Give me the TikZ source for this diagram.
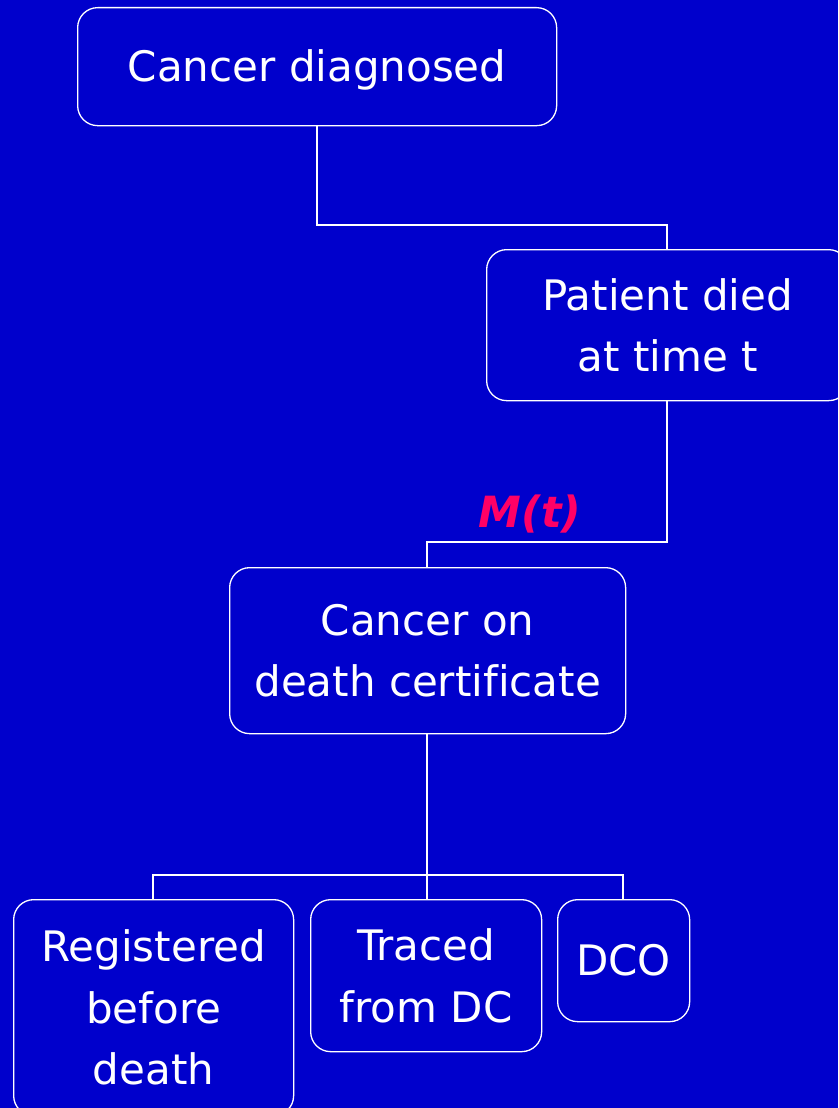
\documentclass[tikz,border=0pt]{standalone}
\usepackage{fontspec}
\setmainfont[Ligatures=CommonOff]{DejaVu Sans}
\definecolor{bg}{HTML}{0000CC}
\definecolor{mred}{HTML}{FF0066}
\begin{document}
\begin{tikzpicture}[x=1pt,y=-1pt,
  box/.style={draw=white,line width=1.3pt,rounded corners=20pt,text=white,align=center,
    font=\fontsize{42}{61.5}\selectfont,inner sep=0pt,anchor=north west},
  conn/.style={draw=white,line width=1.5pt}]
\fill[bg] (0,0) rectangle (838,1108);
\useasboundingbox (0,0) rectangle (838,1108);
\clip (0,0) rectangle (838,1108);
\node[box,minimum width=479pt,minimum height=118pt,text height=31pt,text depth=2pt] (diag) at (77,7) {Cancer diagnosed};
\node[box,minimum width=362pt,minimum height=151pt] (died) at (486,249) {Patient died\\at time t};
\node[box,minimum width=396pt,minimum height=166pt] (cert) at (229,567) {Cancer on\\death certificate};
\node[box,minimum width=280pt,minimum height=216pt] (reg) at (13,899) {Registered\\before\\death};
\node[box,minimum width=231pt,minimum height=152pt] (traced) at (310,899) {Traced\\from DC};
\node[box,minimum width=132pt,minimum height=122pt] (dco) at (557,899) {DCO};
\coordinate (c1) at (317,125);
\coordinate (c2) at (667,249);
\coordinate (c3) at (667,400);
\coordinate (c4) at (427,567);
\coordinate (c5) at (427,733);
\coordinate (c6) at (153,899);
\coordinate (c7) at (427,899);
\coordinate (c8) at (623,899);
\draw[conn] (c1) -- (317,225) -| (c2);
\draw[conn] (c3) -- (667,542) -| (c4);
\draw[conn] (c5) -- (c7);
\draw[conn] (c6) |- (427,875) -| (c8);
\node[text=mred,font=\fontsize{43}{43}\selectfont\bfseries\itshape] (mt) at (530,514) {M(t)};
\end{tikzpicture}
\end{document}
